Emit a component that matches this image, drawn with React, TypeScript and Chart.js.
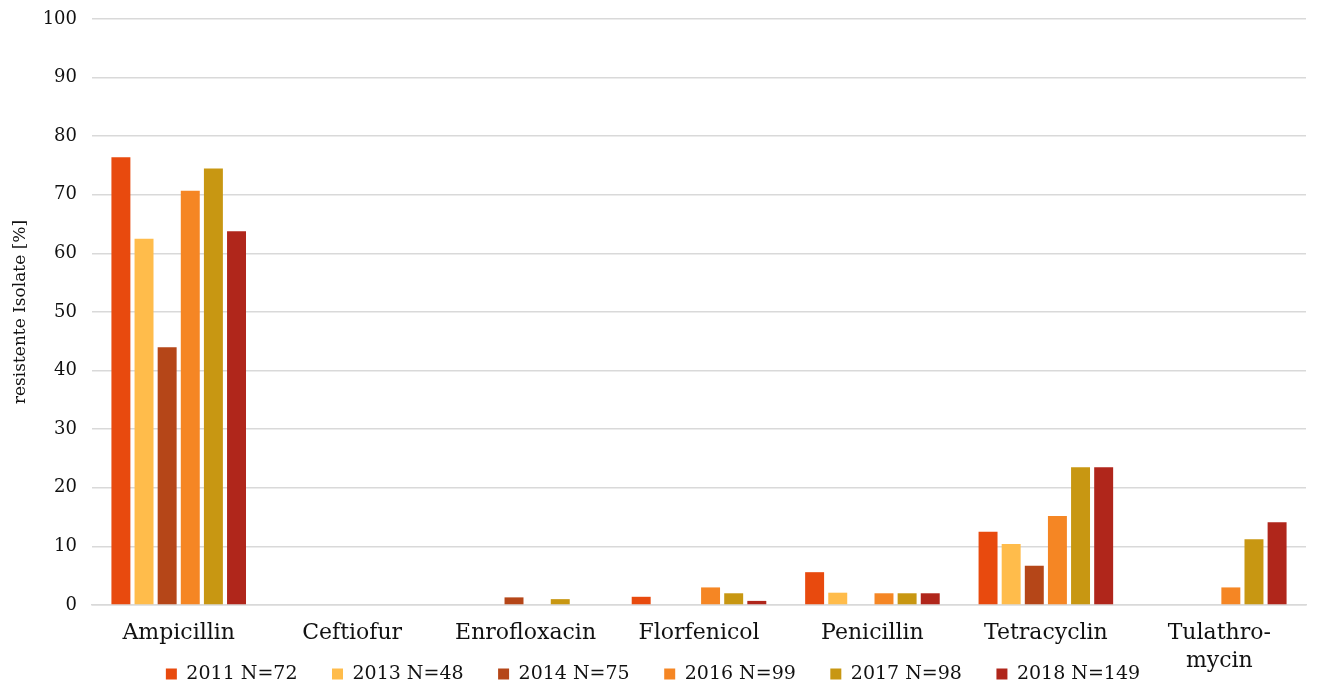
import React, { useEffect, useRef } from "react";
import { Chart, registerables } from "chart.js";

Chart.register(...registerables);

const categories: (string | string[])[] = [
  "Ampicillin",
  "Ceftiofur",
  "Enrofloxacin",
  "Florfenicol",
  "Penicillin",
  "Tetracyclin",
  ["Tulathro-", "mycin"],
];

const seriesLabels = [
  "2011 N=72",
  "2013 N=48",
  "2014 N=75",
  "2016 N=99",
  "2017 N=98",
  "2018 N=149",
];

const values2011 = [76.4, 0, 0, 1.4, 5.6, 12.5, null];
const values2013 = [62.5, 0, 0, 0, 2.1, 10.4, null];
const values2014 = [44.0, 0, 1.3, 0, 0, 6.7, null];
const values2016 = [70.7, 0, 0, 3.0, 2.0, 15.2, 3.0];
const values2017 = [74.5, 0, 1.0, 2.0, 2.0, 23.5, 11.2];
const values2018 = [63.8, 0, 0, 0.7, 2.0, 23.5, 14.1];

const seriesColors = [
  "#E84A0E",
  "#FFBC4B",
  "#B54618",
  "#F58624",
  "#C89712",
  "#B0261B",
];

const yTicks = [0, 10, 20, 30, 40, 50, 60, 70, 80, 90, 100];

const FONT = "'DejaVu Serif', serif";

export default function App() {
  const ref = useRef<HTMLCanvasElement>(null);

  useEffect(() => {
    if (!ref.current) return;
    const allValues = [values2011, values2013, values2014, values2016, values2017, values2018];
    const chart = new Chart(ref.current, {
      type: "bar",
      data: {
        labels: categories,
        datasets: allValues.map((vals, i) => ({
          label: seriesLabels[i],
          data: vals,
          backgroundColor: seriesColors[i],
          borderWidth: 0,
          categoryPercentage: 0.8,
          barPercentage: 0.82,
        })),
      },
      options: {
        animation: false,
        responsive: false,
        maintainAspectRatio: false,
        layout: { padding: { left: 0, right: 13, top: 19, bottom: 0 } },
        plugins: {
          tooltip: { enabled: false },
          legend: {
            position: "bottom",
            maxHeight: 58,
            labels: {
              boxWidth: 11,
              boxHeight: 11,
              padding: 34.5,
              color: "#111",
              font: { family: FONT, size: 19 },
            },
          },
        },
        scales: {
          x: {
            grid: { display: false },
            border: { color: "#d9d9d9", width: 1.5 },
            ticks: {
              color: "#111",
              font: { family: FONT, size: 22, lineHeight: 1.27 },
              padding: 6,
              autoSkip: false,
              maxRotation: 0,
            },
            afterFit: (s: any) => {
              s.height = 25;
              s._computeLabelArea = () => undefined;
            },
          },
          y: {
            min: 0,
            max: 100,
            afterBuildTicks: (s: any) => {
              s.ticks = yTicks.map((v) => ({ value: v }));
            },
            grid: { color: "#d9d9d9", lineWidth: 1.5, drawTicks: false },
            border: { display: false },
            ticks: {
              color: "#111",
              font: { family: FONT, size: 18 },
              padding: 15,
            },
            title: {
              display: true,
              text: "resistente Isolate [%]",
              color: "#111",
              font: { family: FONT, size: 17 },
              padding: { top: 10, bottom: 0 },
            },
            afterFit: (s: any) => {
              s.width = 92;
              s.paddingTop = 0;
              s.paddingBottom = 0;
            },
          },
        },
      },
    });
    return () => chart.destroy();
  }, []);

  return (
    <div style={{ position: "fixed", left: 0, top: 0, width: 1319, height: 688, background: "#fff" }}>
      <canvas ref={ref} width={1319} height={688} style={{ display: "block" }} />
    </div>
  );
}
